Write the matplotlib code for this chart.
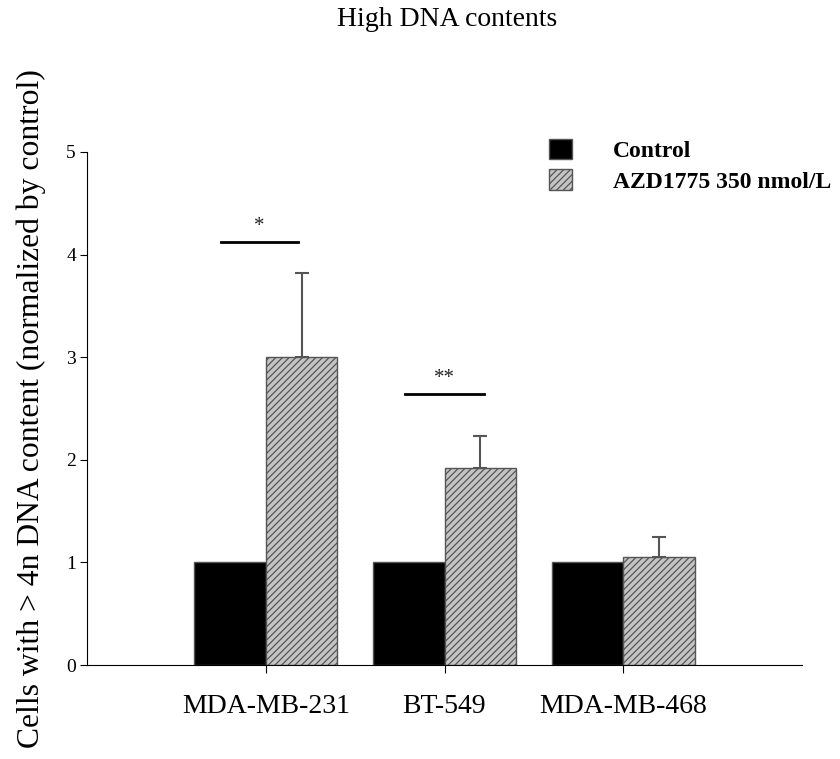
import numpy as np
import matplotlib
matplotlib.use("Agg")
import matplotlib.pyplot as plt
from matplotlib.patches import Patch

# values
cell_lines = ["MDA-MB-231", "BT-549", "MDA-MB-468"]
control = [1.0, 1.0, 1.0]
azd = [3.0, 1.92, 1.05]
azd_err = [0.82, 0.31, 0.20]

# significance brackets: (x start, x end, y, label)
sig_x0 = [-0.25, 0.78]
sig_x1 = [0.18, 1.22]
sig_y = [4.12, 2.64]
sig_text = ["*", "**"]


def draw_graph():
    plt.rcParams.update({'font.family': ['Liberation Serif', 'DejaVu Serif'],
                         'hatch.color': '#3a3a3a', 'hatch.linewidth': 0.9})
    fig = plt.figure(figsize=(8.4, 7.59), dpi=100, facecolor='w')
    ax = fig.add_axes([87/840, 1-665/759, (802-87)/840, (665-152)/759])

    x = np.arange(len(cell_lines))
    w = 0.4
    ax.bar(x - w/2, control, width=w, color='black', edgecolor='#555555',
           linewidth=1, label="Control")
    ax.bar(x + w/2, azd, width=w, color='#c4c4c4', edgecolor='#555555',
           linewidth=1, hatch='/////', label="AZD1775 350 nmol/L")
    ax.errorbar(x + w/2, azd, yerr=[np.zeros(len(azd)), azd_err], fmt='none',
                ecolor='#555555', elinewidth=1.5, capsize=5, capthick=1.5)

    for x0, x1, y, t in zip(sig_x0, sig_x1, sig_y, sig_text):
        ax.plot([x0, x1], [y, y], color='black', linewidth=2)
        ax.text((x0 + x1)/2, y + 0.06, t, ha='center', va='bottom', fontsize=15,
                color='#222222')

    ax.set_xlim(-1, 3)
    ax.set_ylim(0, 5)
    ax.set_xticks(x)
    ax.set_xticklabels(cell_lines, fontsize=20)
    ax.set_yticks(range(6))
    ax.tick_params(axis='y', labelsize=14, length=5, direction='out', pad=3)
    ax.tick_params(axis='x', length=6, direction='out', pad=15)
    for s in ['top', 'right']:
        ax.spines[s].set_visible(False)
    ax.set_ylabel("Cells with > 4n DNA content (normalized by control)",
                  fontsize=22.8)
    ax.yaxis.set_label_coords(-0.058, 0.5)
    fig.text(447/840, 1-20/759, "High DNA contents", ha='center', va='center',
             fontsize=20)

    handles = [Patch(facecolor='black', edgecolor='#555555'),
               Patch(facecolor='#c4c4c4', edgecolor='#555555', hatch='/////')]
    ax.legend(handles, ["Control", "AZD1775 350 nmol/L"], loc='upper left',
              bbox_to_anchor=(537/840, 1-127/759), bbox_transform=fig.transFigure,
              frameon=False, borderpad=0, handlelength=0.97, handleheight=0.97,
              handletextpad=1.75, labelspacing=0.3,
              prop={'weight': 'bold', 'size': 17})

    fig.savefig("out.png", dpi=100)


if __name__ == '__main__':
    draw_graph()
